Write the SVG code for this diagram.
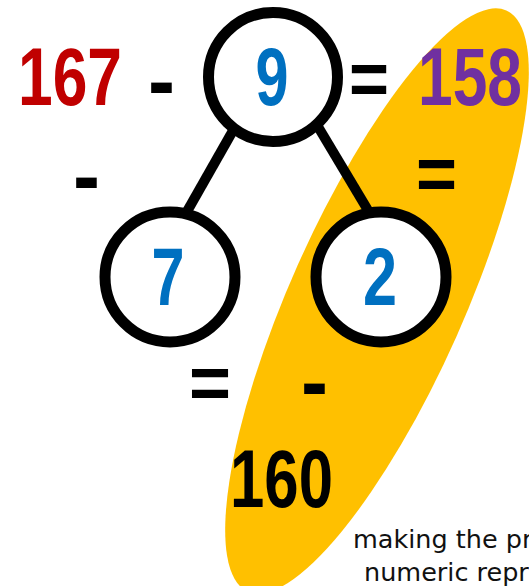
<svg xmlns="http://www.w3.org/2000/svg" width="529" height="586" viewBox="0 0 529 586">
<style>
.num{font-family:"Liberation Sans",Arial,sans-serif;font-weight:bold;font-size:81px}
.op{font-family:"Liberation Sans",Arial,sans-serif;font-weight:bold;font-size:88px;fill:#000}
.eq{font-family:"Liberation Sans",Arial,sans-serif;font-weight:bold;font-size:76px;fill:#000}
.node{fill:#fff;stroke:#000;stroke-width:11}
.edge{stroke:#000;stroke-width:10;fill:none}
.cap{font-family:"DejaVu Sans",Verdana,sans-serif;font-size:25.5px;fill:#111}
</style>
<rect width="529" height="586" fill="#fff"/>
<ellipse cx="377" cy="301" rx="318" ry="87" transform="rotate(-66 377 301)" fill="#FFC000"/>
<g id="connectors">
<line class="edge" x1="239" y1="120" x2="181" y2="222"/>
<line class="edge" x1="314" y1="120" x2="375" y2="222"/>
</g>
<g id="node-9">
<circle class="node" cx="273" cy="77" r="64.5"/>
<text class="num" x="272" y="105" text-anchor="middle" fill="#0070C0" textLength="33" lengthAdjust="spacingAndGlyphs">9</text>
</g>
<g id="node-7">
<circle class="node" cx="170" cy="277" r="65"/>
<text class="num" x="168" y="305" text-anchor="middle" fill="#0070C0" textLength="33" lengthAdjust="spacingAndGlyphs">7</text>
</g>
<g id="node-2">
<circle class="node" cx="381" cy="277" r="65"/>
<text class="num" x="380" y="305" text-anchor="middle" fill="#0070C0" textLength="34" lengthAdjust="spacingAndGlyphs">2</text>
</g>
<g id="labels">
<text class="num" x="18" y="105" fill="#C00000" textLength="104" lengthAdjust="spacingAndGlyphs">167</text>
<text class="num" x="418" y="105" fill="#7030A0" textLength="104" lengthAdjust="spacingAndGlyphs">158</text>
<text class="num" x="230" y="507" fill="#000" textLength="103" lengthAdjust="spacingAndGlyphs">160</text>
<text class="op" x="148" y="110" textLength="27" lengthAdjust="spacingAndGlyphs">-</text>
<text class="eq" x="349" y="105" textLength="40" lengthAdjust="spacingAndGlyphs">=</text>
<text class="op" x="73" y="205" textLength="27" lengthAdjust="spacingAndGlyphs">-</text>
<text class="eq" x="416" y="200" textLength="41" lengthAdjust="spacingAndGlyphs">=</text>
<text class="eq" x="189" y="409" textLength="42" lengthAdjust="spacingAndGlyphs">=</text>
<text class="op" x="301" y="411" textLength="27" lengthAdjust="spacingAndGlyphs">-</text>
<text class="cap" x="353" y="548">making the pr</text>
<text class="cap" x="364" y="581">numeric repr</text>
</g>
</svg>
